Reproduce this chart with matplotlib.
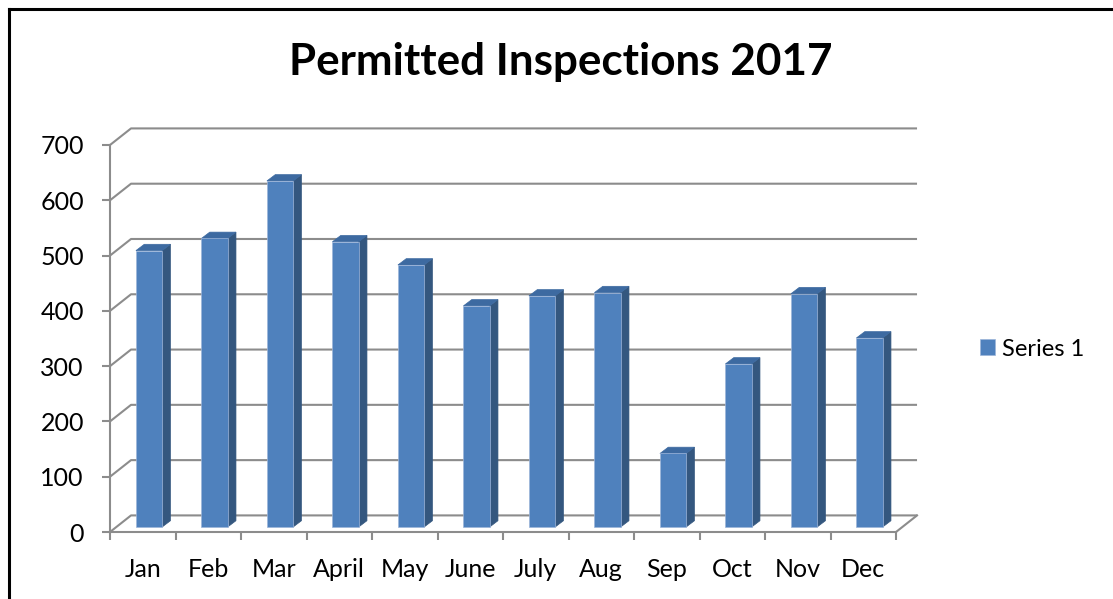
import matplotlib.pyplot as plt
from matplotlib.patches import Polygon
from matplotlib.lines import Line2D
import numpy as np

months = ["Jan", "Feb", "Mar", "April", "May", "June", "July", "Aug", "Sep", "Oct", "Nov", "Dec"]
inspections = [500, 522, 626, 516, 474, 400, 418, 424, 133, 295, 422, 342]
y_ticks = [0, 100, 200, 300, 400, 500, 600, 700]
series_name = "Series 1"

front_color = "#4F81BD"
side_color = "#34577F"
top_color = "#3D6AA1"
grid_color = "#8C8C8C"

# fake 3D: depth of the back wall and of the bars, in data units
wall_dx, wall_dy = 0.321, 30.0
bar_shift_x, bar_shift_y = 0.096, 9.0
bar_dx, bar_dy = 0.127, 11.4
bar_width = 0.4

plt.rcParams["font.family"] = ["Lato", "DejaVu Sans"]

W, H = 1113, 599
fig = plt.figure(figsize=(W / 100, H / 100), dpi=100)
ax = fig.add_axes([110 / W, (H - 532) / H, 786 / W, 387 / H])
n = len(months)
ax.set_xlim(-0.5, n - 0.5)
ax.set_ylim(0, 700)

# back wall gridlines with the diagonal going back from the front axis
for v in y_ticks:
    ax.plot([-0.5, -0.5 + wall_dx, n - 0.5 + wall_dx], [v, v + wall_dy, v + wall_dy],
            color=grid_color, lw=1.5, zorder=1, clip_on=False, solid_capstyle="butt")
ax.plot([n - 0.5, n - 0.5 + wall_dx], [0, wall_dy], color=grid_color, lw=1.5,
        zorder=1, clip_on=False)

x = np.arange(n)
bars = ax.bar(x + bar_shift_x, inspections, width=bar_width, bottom=bar_shift_y,
              color=front_color, edgecolor="#9DB5DA", linewidth=0.5, zorder=3,
              label=series_name, clip_on=False)

for xi, v in zip(x, inspections):
    x0 = xi + bar_shift_x - bar_width / 2
    x1 = x0 + bar_width
    b = bar_shift_y
    t = bar_shift_y + v
    side = Polygon([(x1, b), (x1 + bar_dx, b + bar_dy), (x1 + bar_dx, t + bar_dy), (x1, t)],
                   closed=True, facecolor=side_color, edgecolor=side_color, lw=0.5,
                   zorder=2, clip_on=False)
    top = Polygon([(x0, t), (x0 + bar_dx, t + bar_dy), (x1 + bar_dx, t + bar_dy), (x1, t)],
                  closed=True, facecolor=top_color, edgecolor=top_color, lw=0.5,
                  zorder=2, clip_on=False)
    ax.add_patch(side)
    ax.add_patch(top)

for s in ["top", "right"]:
    ax.spines[s].set_visible(False)
for s in ["left", "bottom"]:
    ax.spines[s].set_color(grid_color)
    ax.spines[s].set_linewidth(1.5)

ax.set_yticks(y_ticks)
ax.set_yticklabels([str(v) for v in y_ticks])
ax.tick_params(axis="y", direction="out", length=5.8, width=1.5, color=grid_color,
               labelsize=18, pad=13)

ax.set_xticks(x)
ax.set_xticklabels(months)
ax.set_xticks(np.arange(n + 1) - 0.5, minor=True)
ax.tick_params(axis="x", which="major", length=0, labelsize=18, pad=19)
ax.tick_params(axis="x", which="minor", direction="out", length=5.8, width=1.5,
               color=grid_color)

fig.text(561 / W, 1 - 62 / H, "Permitted Inspections 2017", ha="center", va="center",
         fontsize=31.7, fontweight="bold")

fig.legend(handles=[bars], labels=[series_name], loc="center left",
           bbox_to_anchor=(980 / W, 1 - 349 / H), frameon=False, fontsize=17,
           handlelength=0.65, handleheight=0.65, handletextpad=0.3,
           borderpad=0, borderaxespad=0)

# chart border, only the top and left edges are inside the picture
fig.add_artist(Line2D([9 / W, 9 / W], [0, 1 - 9 / H], color="black", lw=2.2,
                      transform=fig.transFigure))
fig.add_artist(Line2D([9 / W, 1], [1 - 9 / H, 1 - 9 / H], color="black", lw=2.2,
                      transform=fig.transFigure))

fig.savefig("out.png", dpi=100)
